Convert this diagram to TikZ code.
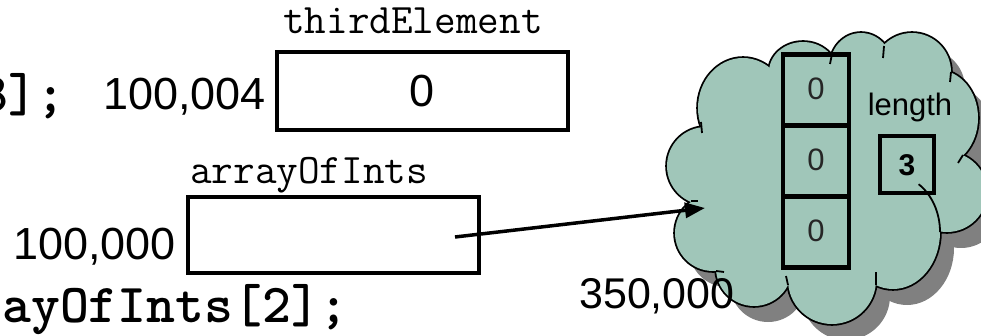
\documentclass[tikz,border=0pt]{standalone}
\usepackage{fontspec}
\setmainfont{Liberation Sans}
\usetikzlibrary{arrows.meta}
\definecolor{cloudfill}{HTML}{A0C6B9}
\definecolor{shadowgray}{HTML}{808080}
\newcommand\mycloudparts[1]{%
  \path[#1] (743,108) ellipse[x radius=45, y radius=50];
  \path[#1] (803,72) ellipse[x radius=34, y radius=30];
  \path[#1] (861,66) ellipse[x radius=31, y radius=33];
  \path[#1] (912,72) circle[radius=39];
  \path[#1] (938,118) ellipse[x radius=40, y radius=48];
  \path[#1] (947,192) circle[radius=40];
  \path[#1] (893,232) ellipse[x radius=47, y radius=57];
  \path[#1] (832,280) circle[radius=44];
  \path[#1] (754,268) circle[radius=38];
  \path[#1] (713,233) circle[radius=38];
  \path[#1] (706,166) circle[radius=39];
  \path[#1] (822,178) ellipse[x radius=115, y radius=100];
}
\begin{document}
\begin{tikzpicture}[x=1pt,y=-1pt,
  varbox/.style={draw, line width=4pt, inner sep=0pt},
  cellbox/.style={draw, line width=4.5pt, inner sep=0pt, minimum width=66, minimum height=71},
  codetxt/.style={inner sep=0pt, font=\ttfamily\bfseries\fontsize{55}{55}\selectfont},
  addr/.style={inner sep=0pt, font=\fontsize{45}{45}\selectfont},
  varname/.style={inner sep=0pt, font=\ttfamily\fontsize{42}{42}\selectfont},
  celltxt/.style={font=\fontsize{31}{31}\selectfont, text=black!85},
  stub/.style={line width=1.8pt},
  ptr/.style={line width=3.5pt, -{Triangle[length=20pt,width=15pt]}}
]
\useasboundingbox (0,0) rectangle (981,336);
% code fragments
\node[codetxt, anchor=base east] (code1) at (66,112) {3];};
\node[codetxt, anchor=base east] (code2) at (349,322) {ayOfInts[2];};
% thirdElement
\node[varname, anchor=base west] (tename) at (283,34) {thirdElement};
\node[varbox, minimum width=291, minimum height=78, font=\fontsize{45}{45}\selectfont] (tebox) at (422.5,91) {0};
\node[addr, anchor=base east] (teaddr) at (266,110) {100,004};
% arrayOfInts
\node[varname, anchor=base west] (aname) at (190,184) {arrayOfInts};
\node[varbox, minimum width=291, minimum height=76] (abox) at (333.5,235.5) {};
\node[addr, anchor=base east] (aaddr) at (176,260) {100,000};
% cloud: shadow, outline, fill
\begin{scope}[shift={(14,16)}]
  \mycloudparts{fill=shadowgray}
\end{scope}
\mycloudparts{draw=black, line width=3.6pt}
\mycloudparts{fill=cloudfill}
% inner stubs of the cloud outline
\draw[stub] (940,232) arc[start angle=0, end angle=-57, x radius=47, y radius=57];
\draw[stub] (701,122) -- (702,133);
\draw[stub] (832,54) -- (830,64);
\draw[stub] (884,46) -- (883,58);
\draw[stub] (951,72) -- (950,82);
\draw[stub] (963,155) -- (958,163);
\draw[stub] (876,285) -- (876,272);
\draw[stub] (788,285) -- (786,276);
\draw[stub] (716,271) -- (724,272);
\draw[stub] (691,201) -- (698,201);
% array cells
\node[cellbox] (c0) at (816,90) {};
\node[cellbox] (c1) at (816,161) {};
\node[cellbox] (c2) at (816,232) {};
\node[celltxt] (t0) at (816,89) {0};
\node[celltxt] (t1) at (816,160) {0};
\node[celltxt] (t2) at (816,231) {0};
\node[inner sep=0pt, font=\fontsize{31}{31}\selectfont, anchor=base] (len) at (910,116) {length};
\node[draw, line width=4pt, inner sep=0pt, minimum width=54, minimum height=57, font=\bfseries\fontsize{30}{30}\selectfont] (lenbox) at (907,165) {3};
\node[addr, anchor=base west, font=\fontsize{43}{43}\selectfont] (caddr) at (579,308) {350,000};
% pointer
\coordinate (ps) at (455,237);
\coordinate (pe) at (705,208);
\draw[ptr] (ps) -- (pe);
\end{tikzpicture}
\end{document}
